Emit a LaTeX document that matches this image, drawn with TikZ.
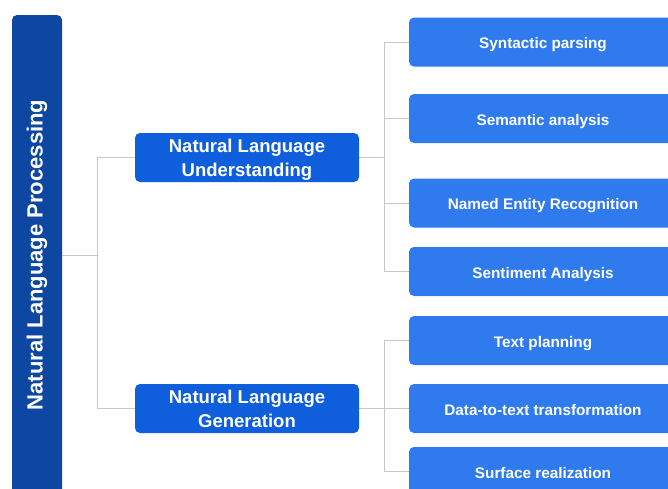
\documentclass[tikz,border=0pt]{standalone}
\usepackage{fontspec}
\setmainfont{Liberation Sans}
\definecolor{rootblue}{HTML}{0D47A1}
\definecolor{midblue}{HTML}{0F5FDC}
\definecolor{leafblue}{HTML}{2F7BEE}
\definecolor{linegray}{HTML}{C8C8C8}
\begin{document}
\begin{tikzpicture}[x=1pt, y=-1pt,
    rootbox/.style={fill=rootblue, text=white, rounded corners=5pt, rotate=90,
      minimum width=480pt, minimum height=50pt, inner sep=0pt,
      font=\fontsize{22}{26}\selectfont\bfseries},
    midbox/.style={fill=midblue, text=white, rounded corners=5pt, align=center,
      minimum width=224pt, minimum height=49pt, inner sep=0pt, text depth=0pt,
      font=\fontsize{18.5}{24}\selectfont\bfseries},
    leafbox/.style={fill=leafblue, text=white, rounded corners=5pt,
      minimum width=268pt, minimum height=49pt, inner sep=0pt,
      text height=13pt, text depth=0pt,
      font=\fontsize{15.3}{18}\selectfont\bfseries},
    link/.style={draw=linegray, line width=1pt}]
    \clip (0,0) rectangle (668,488);
    \useasboundingbox (0,0) rectangle (668,488);

    \node[rootbox] (nlp) at (37,255) {Natural Language Processing};
    \node[midbox] (nlu) at (247,157.5) {Natural Language\\Understanding};
    \node[midbox] (nlg) at (247,408.5) {Natural Language\\Generation};

    % understanding leaves
    \foreach \name/\y/\txt in {syn/42/Syntactic parsing,
                               sem/118.5/Semantic analysis,
                               ner/203/Named Entity Recognition,
                               sent/271.5/Sentiment Analysis}
      \node[leafbox] (\name) at (543,\y) {\txt};

    % generation leaves
    \foreach \name/\y/\txt in {plan/340.5/Text planning,
                               dtt/408.5/Data-to-text transformation,
                               surf/471.5/Surface realization}
      \node[leafbox] (\name) at (543,\y) {\txt};

    \draw[link] (nlp.south) -- ++(35,0) |- (nlu.west);
    \draw[link] (nlp.south) -- ++(35,0) |- (nlg.west);
    \foreach \leaf in {syn,sem,ner,sent}
      \draw[link] (nlu.east) -- ++(25,0) |- (\leaf.west);
    \foreach \leaf in {plan,dtt,surf}
      \draw[link] (nlg.east) -- ++(25,0) |- (\leaf.west);
  \end{tikzpicture}
\end{document}
